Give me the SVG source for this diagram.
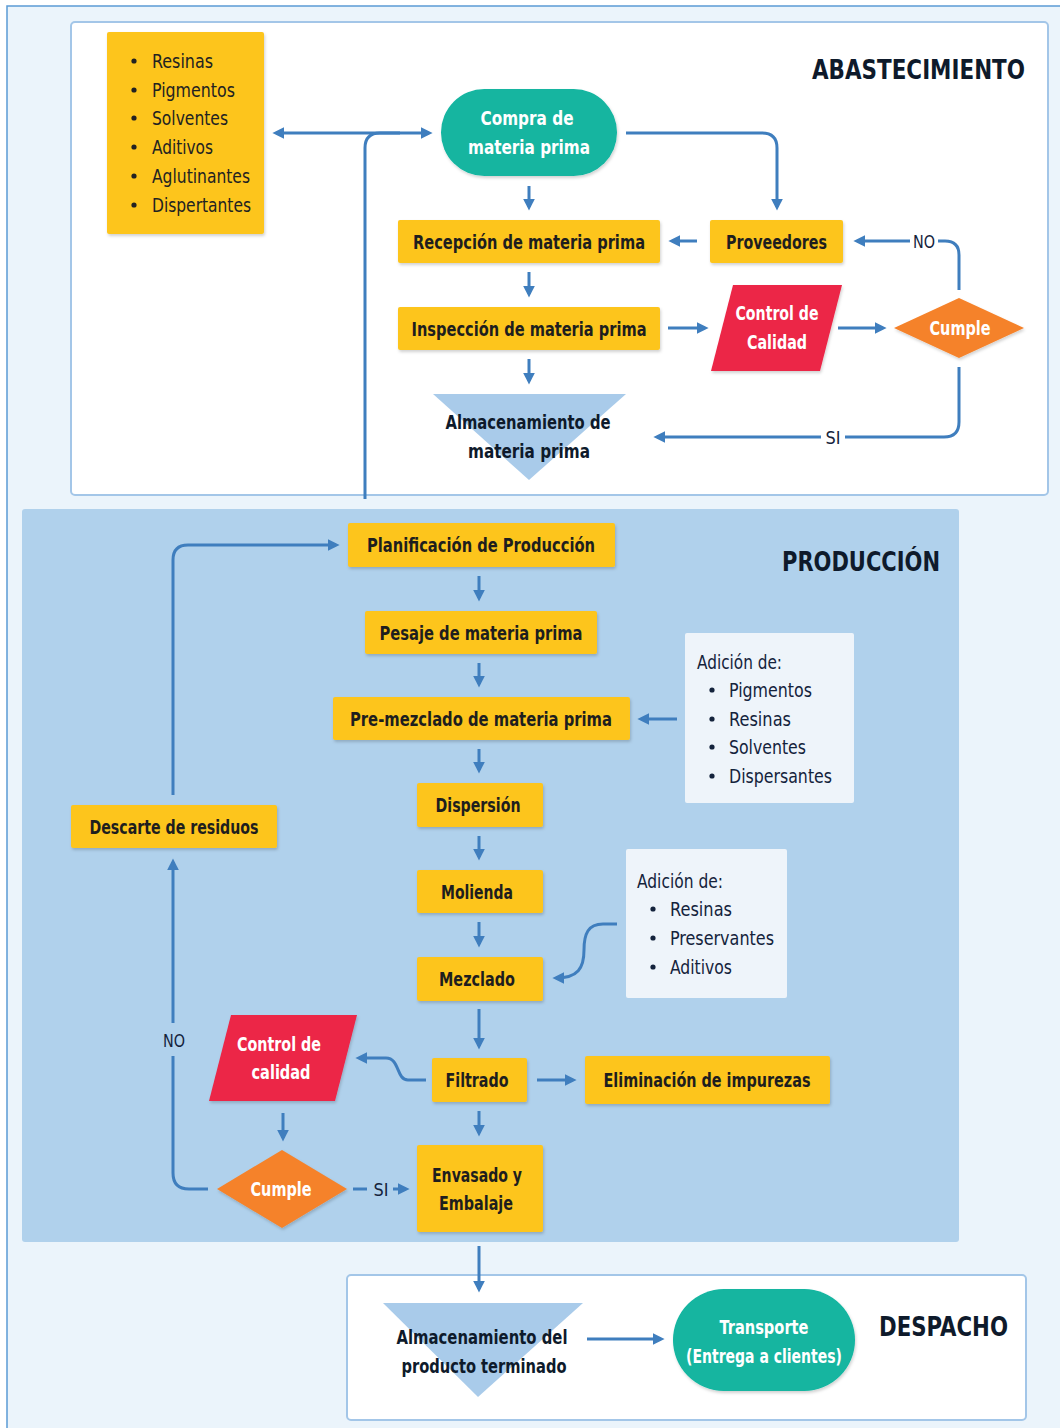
<svg xmlns="http://www.w3.org/2000/svg" width="1060" height="1428" viewBox="0 0 1060 1428">
<defs>
<marker id="ah" viewBox="0 0 10 10" refX="7" refY="5" markerWidth="12" markerHeight="12" markerUnits="userSpaceOnUse" orient="auto-start-reverse"><path d="M0,0 L10,5 L0,10 z" fill="#3F7EBE"/></marker>
<filter id="sh" x="-10%" y="-10%" width="130%" height="140%"><feDropShadow dx="1" dy="2" stdDeviation="1.5" flood-color="#000" flood-opacity="0.18"/></filter>
</defs>
<style>
.y{fill:#FDC51F;filter:url(#sh)}
.tl{fill:#12B5A0;filter:url(#sh)}
.rd{fill:#EC2546;filter:url(#sh)}
.or{fill:#F5822A;filter:url(#sh)}
.tri{fill:#A9CBEA}
.ad{fill:#EEF4FA}
.t{font-family:'DejaVu Sans Condensed','DejaVu Sans',sans-serif;font-weight:bold;font-size:19px;fill:#1E1E1E;text-anchor:middle;dominant-baseline:central}
.w{fill:#FFFFFF}
.nv{fill:#0E1A2B}
.l{font-family:'DejaVu Sans Condensed','DejaVu Sans',sans-serif;font-size:20px;fill:#222222;dominant-baseline:central}
.la{fill:#14233C}
.h{font-family:'DejaVu Sans Condensed','DejaVu Sans',sans-serif;font-weight:bold;font-size:27px;fill:#0E1A2B;text-anchor:middle;dominant-baseline:central}
.lb{font-family:'DejaVu Sans Condensed','DejaVu Sans',sans-serif;font-size:18px;fill:#14233C;text-anchor:middle;dominant-baseline:central}
.c{fill:none;stroke:#3F7EBE;stroke-width:3}
.a{marker-end:url(#ah)}
.b{fill:#222222}
.ba{fill:#14233C}
</style>
<rect x="0" y="0" width="1060" height="1428" fill="#FFFFFF"/>
<rect x="7" y="6" width="1100" height="1500" fill="#EBF4FB" stroke="#5B9BD5" stroke-width="1.5"/>
<g id="sec-abastecimiento">
<rect x="71" y="22" width="977" height="473" rx="4" fill="#FFFFFF" stroke="#A3C6E8" stroke-width="2"/>
<text class="h" x="918.5" y="69" textLength="213" lengthAdjust="spacingAndGlyphs">ABASTECIMIENTO</text>
</g>
<g id="sec-produccion">
<rect x="22" y="509" width="937" height="733" rx="3" fill="#B0D1EC"/>
<text class="h" x="861" y="561" textLength="158" lengthAdjust="spacingAndGlyphs">PRODUCCIÓN</text>
</g>
<g id="sec-despacho">
<rect x="347" y="1275" width="679" height="145" rx="4" fill="#FFFFFF" stroke="#A3C6E8" stroke-width="2"/>
<text class="h" x="943.5" y="1326" textLength="129" lengthAdjust="spacingAndGlyphs">DESPACHO</text>
</g>

<g id="connectors">
<path class="c a" style="marker-start:url(#ah)" d="M276 133 L429 133"/>
<path class="c" d="M365 499 L365 148 Q365 133 380 133 L400 133"/>
<path class="c a" d="M626 133 L762 133 Q777 133 777 148 L777 207"/>
<path class="c a" d="M529 186 L529 207"/>
<path class="c a" d="M697 241 L672 241"/>
<path class="c" d="M959 290 L959 255 Q959 241 945 241 L938 241"/>
<path class="c a" d="M910 241 L857 241"/>
<path class="c a" d="M529 272 L529 294"/>
<path class="c a" d="M668 328 L705 328"/>
<path class="c a" d="M838 328 L883 328"/>
<path class="c" d="M959 367 L959 422 Q959 437 944 437 L845 437"/>
<path class="c a" d="M821 437 L657 437"/>
<path class="c a" d="M529 359 L529 381"/>
<path class="c a" d="M173 795 L173 560 Q173 545 188 545 L336 545"/>
<path class="c a" d="M479 576 L479 598"/>
<path class="c a" d="M479 663 L479 684"/>
<path class="c a" d="M479 749 L479 770"/>
<path class="c a" d="M479 836 L479 857"/>
<path class="c a" d="M479 922 L479 944"/>
<path class="c a" d="M479 1009 L479 1046"/>
<path class="c a" d="M479 1111 L479 1133"/>
<path class="c a" d="M479 1246 L479 1289"/>
<path class="c a" d="M677 719 L641 719"/>
<path class="c a" d="M617 924 L603 924 C588 924 584 934 584 950 C584 968 578 978 556 978"/>
<path class="c a" d="M426 1080 L408 1080 C396 1080 400 1058 386 1058 L359 1058"/>
<path class="c a" d="M537 1080 L573 1080"/>
<path class="c a" d="M283 1113 L283 1138"/>
<path class="c" d="M208 1189 L189 1189 Q173 1189 173 1173 L173 1056"/>
<path class="c a" d="M173 1023 L173 862"/>
<path class="c" d="M353 1189 L367 1189"/>
<path class="c a" d="M393 1189 L406 1189"/>
<path class="c a" d="M587 1339 L661 1339"/>
<text class="lb" x="924" y="241" textLength="22" lengthAdjust="spacingAndGlyphs">NO</text>
<text class="lb" x="833" y="437" textLength="15" lengthAdjust="spacingAndGlyphs">SI</text>
<text class="lb" x="174" y="1040" textLength="22" lengthAdjust="spacingAndGlyphs">NO</text>
<text class="lb" x="381" y="1189" textLength="15" lengthAdjust="spacingAndGlyphs">SI</text>
</g>

<g id="materiales">
<rect class="y" x="107" y="32" width="157" height="202" rx="2"/>
<circle class="b" cx="134" cy="61" r="2.6"/><text class="l" x="152" y="61" textLength="61" lengthAdjust="spacingAndGlyphs">Resinas</text>
<circle class="b" cx="134" cy="90" r="2.6"/><text class="l" x="152" y="90" textLength="83" lengthAdjust="spacingAndGlyphs">Pigmentos</text>
<circle class="b" cx="134" cy="118" r="2.6"/><text class="l" x="152" y="118" textLength="76" lengthAdjust="spacingAndGlyphs">Solventes</text>
<circle class="b" cx="134" cy="147" r="2.6"/><text class="l" x="152" y="147" textLength="61" lengthAdjust="spacingAndGlyphs">Aditivos</text>
<circle class="b" cx="134" cy="176" r="2.6"/><text class="l" x="152" y="176" textLength="98" lengthAdjust="spacingAndGlyphs">Aglutinantes</text>
<circle class="b" cx="134" cy="205" r="2.6"/><text class="l" x="152" y="205" textLength="99" lengthAdjust="spacingAndGlyphs">Dispertantes</text>
</g>
<g id="compra">
<rect class="tl" x="441" y="89" width="176" height="87" rx="43.5"/>
<text class="t w" x="527" y="118" textLength="93" lengthAdjust="spacingAndGlyphs">Compra de</text>
<text class="t w" x="529" y="147" textLength="122" lengthAdjust="spacingAndGlyphs">materia prima</text>
</g>
<g id="recepcion">
<rect class="y" x="398" y="220" width="262" height="43" rx="2"/>
<text class="t" x="529" y="241.5" textLength="232" lengthAdjust="spacingAndGlyphs">Recepción de materia prima</text>
</g>
<g id="proveedores">
<rect class="y" x="710" y="220" width="133" height="43" rx="2"/>
<text class="t" x="776.5" y="241.5" textLength="101" lengthAdjust="spacingAndGlyphs">Proveedores</text>
</g>
<g id="inspeccion">
<rect class="y" x="398" y="307" width="262" height="43" rx="2"/>
<text class="t" x="529" y="328.5" textLength="235" lengthAdjust="spacingAndGlyphs">Inspección de materia prima</text>
</g>
<g id="control-calidad-1">
<polygon class="rd" points="733,285 842,285 820,371 711,371"/>
<text class="t w" x="777" y="313" textLength="83" lengthAdjust="spacingAndGlyphs">Control de</text>
<text class="t w" x="777" y="342" textLength="60" lengthAdjust="spacingAndGlyphs">Calidad</text>
</g>
<g id="cumple-1">
<polygon class="or" points="894,328 959,298 1024,328 959,358"/>
<text class="t w" x="960" y="328" textLength="61" lengthAdjust="spacingAndGlyphs">Cumple</text>
</g>
<g id="almacenamiento-mp">
<polygon class="tri" points="433,394 626,394 529,480"/>
<text class="t nv" x="528" y="422" textLength="165" lengthAdjust="spacingAndGlyphs">Almacenamiento de</text>
<text class="t nv" x="529" y="451" textLength="122" lengthAdjust="spacingAndGlyphs">materia prima</text>
</g>

<g id="planificacion">
<rect class="y" x="348" y="523" width="267" height="44" rx="2"/>
<text class="t" x="481" y="545" textLength="228" lengthAdjust="spacingAndGlyphs">Planificación de Producción</text>
</g>
<g id="pesaje">
<rect class="y" x="365" y="611" width="232" height="43" rx="2"/>
<text class="t" x="481" y="632.5" textLength="203" lengthAdjust="spacingAndGlyphs">Pesaje de materia prima</text>
</g>
<g id="premezclado">
<rect class="y" x="333" y="697" width="297" height="43" rx="2"/>
<text class="t" x="481" y="718.5" textLength="262" lengthAdjust="spacingAndGlyphs">Pre-mezclado de materia prima</text>
</g>
<g id="adicion-1">
<rect class="ad" x="685" y="633" width="169" height="170" rx="2"/>
<text class="l la" x="697" y="662" textLength="85" lengthAdjust="spacingAndGlyphs">Adición de:</text>
<circle class="ba" cx="712" cy="690" r="2.6"/><text class="l la" x="729" y="690" textLength="83" lengthAdjust="spacingAndGlyphs">Pigmentos</text>
<circle class="ba" cx="712" cy="719" r="2.6"/><text class="l la" x="729" y="719" textLength="62" lengthAdjust="spacingAndGlyphs">Resinas</text>
<circle class="ba" cx="712" cy="747" r="2.6"/><text class="l la" x="729" y="747" textLength="77" lengthAdjust="spacingAndGlyphs">Solventes</text>
<circle class="ba" cx="712" cy="776" r="2.6"/><text class="l la" x="729" y="776" textLength="103" lengthAdjust="spacingAndGlyphs">Dispersantes</text>
</g>
<g id="dispersion">
<rect class="y" x="417" y="783" width="126" height="44" rx="2"/>
<text class="t" x="478" y="805" textLength="85" lengthAdjust="spacingAndGlyphs">Dispersión</text>
</g>
<g id="molienda">
<rect class="y" x="417" y="870" width="126" height="43" rx="2"/>
<text class="t" x="477" y="891.5" textLength="72" lengthAdjust="spacingAndGlyphs">Molienda</text>
</g>
<g id="mezclado">
<rect class="y" x="417" y="957" width="126" height="44" rx="2"/>
<text class="t" x="477" y="979" textLength="76" lengthAdjust="spacingAndGlyphs">Mezclado</text>
</g>
<g id="adicion-2">
<rect class="ad" x="626" y="849" width="161" height="149" rx="2"/>
<text class="l la" x="637" y="881" textLength="86" lengthAdjust="spacingAndGlyphs">Adición de:</text>
<circle class="ba" cx="653" cy="909" r="2.6"/><text class="l la" x="670" y="909" textLength="62" lengthAdjust="spacingAndGlyphs">Resinas</text>
<circle class="ba" cx="653" cy="938" r="2.6"/><text class="l la" x="670" y="938" textLength="104" lengthAdjust="spacingAndGlyphs">Preservantes</text>
<circle class="ba" cx="653" cy="967" r="2.6"/><text class="l la" x="670" y="967" textLength="62" lengthAdjust="spacingAndGlyphs">Aditivos</text>
</g>
<g id="filtrado">
<rect class="y" x="432" y="1058" width="95" height="44" rx="2"/>
<text class="t" x="477" y="1080" textLength="63" lengthAdjust="spacingAndGlyphs">Filtrado</text>
</g>
<g id="eliminacion">
<rect class="y" x="585" y="1056" width="245" height="48" rx="2"/>
<text class="t" x="707" y="1080" textLength="207" lengthAdjust="spacingAndGlyphs">Eliminación de impurezas</text>
</g>
<g id="control-calidad-2">
<polygon class="rd" points="231,1015 357,1015 335,1101 209,1101"/>
<text class="t w" x="279" y="1044" textLength="84" lengthAdjust="spacingAndGlyphs">Control de</text>
<text class="t w" x="281" y="1072" textLength="59" lengthAdjust="spacingAndGlyphs">calidad</text>
</g>
<g id="cumple-2">
<polygon class="or" points="217,1189 282,1150 347,1189 282,1228"/>
<text class="t w" x="281" y="1189" textLength="61" lengthAdjust="spacingAndGlyphs">Cumple</text>
</g>
<g id="envasado">
<rect class="y" x="417" y="1145" width="126" height="87" rx="2"/>
<text class="t" x="477" y="1175" textLength="90" lengthAdjust="spacingAndGlyphs">Envasado y</text>
<text class="t" x="476" y="1203" textLength="74" lengthAdjust="spacingAndGlyphs">Embalaje</text>
</g>
<g id="descarte">
<rect class="y" x="71" y="805" width="206" height="43" rx="2"/>
<text class="t" x="174" y="826.5" textLength="169" lengthAdjust="spacingAndGlyphs">Descarte de residuos</text>
</g>

<g id="almacenamiento-pt">
<polygon class="tri" points="383,1303 583,1303 478,1397"/>
<text class="t nv" x="482" y="1337" textLength="171" lengthAdjust="spacingAndGlyphs">Almacenamiento del</text>
<text class="t nv" x="484" y="1366" textLength="165" lengthAdjust="spacingAndGlyphs">producto terminado</text>
</g>
<g id="transporte">
<rect class="tl" x="673" y="1289" width="182" height="102" rx="51"/>
<text class="t w" x="764" y="1327" textLength="89" lengthAdjust="spacingAndGlyphs">Transporte</text>
<text class="t w" x="764" y="1356" textLength="156" lengthAdjust="spacingAndGlyphs">(Entrega a clientes)</text>
</g>
</svg>
